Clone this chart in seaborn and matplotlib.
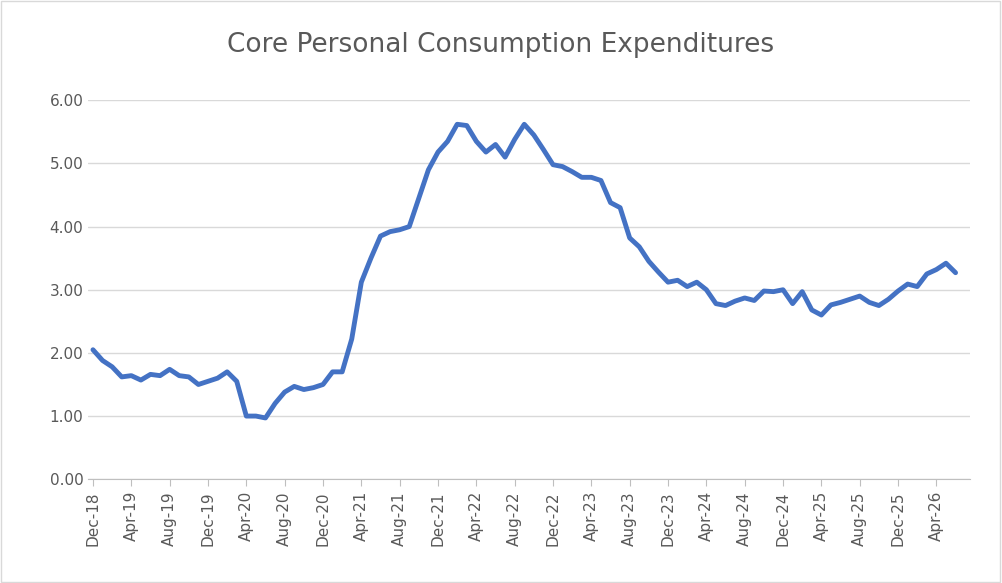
import pandas as pd
import seaborn as sns
import matplotlib.pyplot as plt
from matplotlib.patches import Rectangle

# monthly values, Dec-18 .. Jun-26
months = pd.date_range('2018-12-01', '2026-06-01', freq='MS')
values = [2.05, 1.88, 1.78, 1.62, 1.64, 1.57, 1.66, 1.64, 1.74, 1.64, 1.62, 1.50,
          1.55, 1.60, 1.70, 1.55, 1.00, 1.00, 0.97, 1.20, 1.38, 1.47, 1.42, 1.45,
          1.50, 1.70, 1.70, 2.22, 3.12, 3.50, 3.85, 3.92, 3.95, 4.00, 4.45, 4.90,
          5.18, 5.35, 5.62, 5.60, 5.35, 5.18, 5.30, 5.10, 5.38, 5.62, 5.45, 5.22,
          4.98, 4.95, 4.87, 4.78, 4.78, 4.73, 4.38, 4.30, 3.82, 3.68, 3.45, 3.28,
          3.12, 3.15, 3.05, 3.12, 3.00, 2.78, 2.75, 2.82, 2.87, 2.83, 2.98, 2.97,
          3.00, 2.78, 2.97, 2.68, 2.60, 2.76, 2.80, 2.85, 2.90, 2.80, 2.75, 2.85,
          2.98, 3.09, 3.05, 3.25, 3.32, 3.42, 3.27]

df = pd.DataFrame({'idx': range(len(values)), 'value': values,
                   'label': months.strftime('%b-%y')})

sns.set_style('white')
fig = plt.figure(figsize=(10.02, 5.83), dpi=100)
ax = fig.add_axes([0.088, 0.178, 0.88, 0.65])
sns.lineplot(data=df, x='idx', y='value', color='#4472C4', linewidth=3.5, ax=ax)

ax.set_ylim(0, 6)
ax.set_yticks([0, 1, 2, 3, 4, 5, 6])
ax.set_yticklabels([f'{v:.2f}' for v in range(7)])
ticks = df['idx'][::4]
ax.set_xticks(ticks)
ax.set_xticklabels(df['label'][::4], rotation=90)
ax.set_xlim(-0.5, len(values) + 0.5)
ax.grid(axis='y', color='#D9D9D9', linewidth=1)
for s in ['top', 'right', 'left']:
    ax.spines[s].set_visible(False)
ax.spines['bottom'].set_color('#BFBFBF')
ax.tick_params(axis='both', colors='#595959', labelsize=11, length=0)
ax.tick_params(axis='x', length=5, color='#BFBFBF', direction='out', bottom=True)
ax.set_xlabel('')
ax.set_ylabel('')
fig.suptitle('Core Personal Consumption Expenditures', y=0.945, fontsize=19, color='#595959')
fig.patches.append(Rectangle((0.001, 0.001), 0.997, 0.997, transform=fig.transFigure,
                             fill=False, edgecolor='#D9D9D9', linewidth=1))
fig.savefig('out.png', dpi=100)
